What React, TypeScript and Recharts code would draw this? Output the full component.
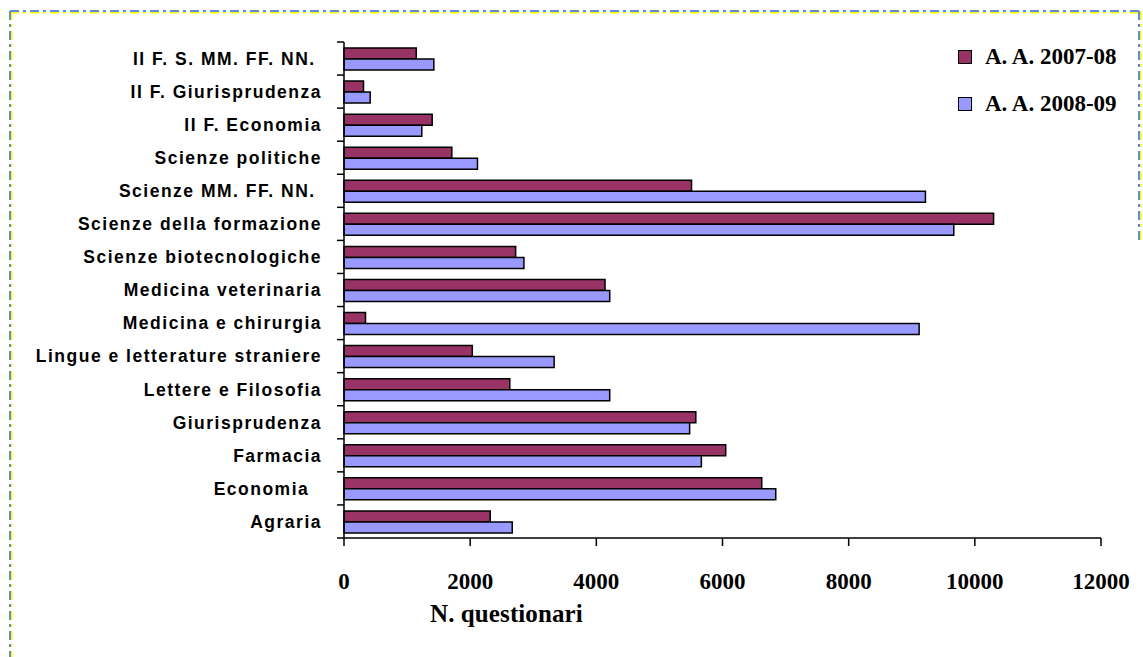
import { Bar, BarChart, Legend, XAxis, YAxis } from "recharts";

const categories = [
  "II F. S. MM. FF. NN. ",
  "II F. Giurisprudenza",
  "II F. Economia",
  "Scienze politiche",
  "Scienze MM. FF. NN. ",
  "Scienze della formazione",
  "Scienze biotecnologiche",
  "Medicina veterinaria",
  "Medicina e chirurgia",
  "Lingue e letterature straniere",
  "Lettere e Filosofia",
  "Giurisprudenza",
  "Farmacia",
  "Economia  ",
  "Agraria",
];
const aa200708 = [1145, 309, 1398, 1709, 5509, 10297, 2721, 4138, 341, 2034, 2628, 5577, 6051, 6622, 2318];
const aa200809 = [1424, 415, 1233, 2116, 9217, 9666, 2852, 4212, 9117, 3331, 4212, 5479, 5665, 6844, 2667];
const xTicks = [0, 2000, 4000, 6000, 8000, 10000, 12000];
const seriesNames = ["A. A. 2007-08", "A. A. 2008-09"];

const data = categories.map((name, i) => ({ name, a: aa200708[i], b: aa200809[i] }));

const W = 1143;
const H = 657;
const TOP = 42;
const BOTTOM = 538;
const AXIS_X = 344;
const BAND = (BOTTOM - TOP) / categories.length;

function CategoryTick(props: any) {
  const { y, payload } = props;
  const last = payload.value === categories[categories.length - 1];
  return (
    <g>
      <line x1={AXIS_X - 7} x2={AXIS_X} y1={y - BAND / 2} y2={y - BAND / 2} stroke="#000" strokeWidth={1.5} />
      {last && <line x1={AXIS_X - 7} x2={AXIS_X} y1={y + BAND / 2} y2={y + BAND / 2} stroke="#000" strokeWidth={1.5} />}
      <text
        x={AXIS_X - 22}
        y={y}
        dy="0.36em"
        textAnchor="end"
        fill="#000"
        style={{ whiteSpace: "pre", fontFamily: "'Liberation Sans', Arial, sans-serif", fontWeight: 700, fontSize: 17.5, letterSpacing: 1.5 }}
      >
        {payload.value}
      </text>
    </g>
  );
}

function SeriesLegend(props: any) {
  const payload = props.payload || [];
  return (
    <div>
      {payload.map((p: any) => (
        <div key={p.value} style={{ display: "flex", alignItems: "center", height: 47 }}>
          <span style={{ width: 12, height: 12, background: p.color, border: "1.5px solid #000", marginRight: 13 }} />
          <span
            style={{ fontFamily: "'Liberation Serif', 'Times New Roman', serif", fontWeight: 700, fontSize: 23, color: "#000" }}
          >
            {p.value}
          </span>
        </div>
      ))}
    </div>
  );
}

function Border() {
  const dash = "9 4 3 4";
  return (
    <svg width={W} height={H} style={{ position: "absolute", left: 0, top: 0, pointerEvents: "none" }}>
      <line x1={10} y1={12.5} x2={1142} y2={12.5} stroke="#ffff00" strokeWidth={2} strokeDasharray={dash} />
      <line x1={11.5} y1={11} x2={11.5} y2={657} stroke="#ffff00" strokeWidth={2} strokeDasharray={dash} />
      <line x1={1140.5} y1={11} x2={1140.5} y2={240} stroke="#ffff00" strokeWidth={2} strokeDasharray={dash} />
      <line x1={10} y1={11} x2={1142} y2={11} stroke="#5b8dd6" strokeWidth={2} strokeDasharray={dash} />
      <line x1={10} y1={11} x2={10} y2={657} stroke="#5b8dd6" strokeWidth={2} strokeDasharray={dash} />
      <line x1={1139} y1={11} x2={1139} y2={240} stroke="#5b8dd6" strokeWidth={2} strokeDasharray={dash} />
    </svg>
  );
}

export default function App() {
  return (
    <div style={{ position: "absolute", left: 0, top: 0, width: W, height: H, background: "#fff" }}>
      <BarChart
        width={W}
        height={H}
        data={data}
        layout="vertical"
        margin={{ top: TOP, right: W - 1101, bottom: H - BOTTOM - 60, left: 0 }}
        barCategoryGap={6}
        barGap={0}
      >
        <XAxis
          type="number"
          domain={[0, 12000]}
          ticks={xTicks}
          interval={0}
          height={60}
          axisLine={{ stroke: "#000", strokeWidth: 1.5 }}
          tickLine={{ stroke: "#000", strokeWidth: 1.5 }}
          tickSize={8}
          tickMargin={27}
          tick={{ fill: "#000", fontSize: 23, fontWeight: 700, fontFamily: "'Liberation Serif', 'Times New Roman', serif" }}
        />
        <YAxis
          type="category"
          dataKey="name"
          width={AXIS_X}
          interval={0}
          axisLine={{ stroke: "#000", strokeWidth: 1.5 }}
          tickLine={false}
          tick={(p: any) => <CategoryTick {...p} />}
        />
        <Legend
          layout="vertical"
          align="center"
          verticalAlign="middle"
          wrapperStyle={{ left: 958, top: 33, width: 185 }}
          content={(p: any) => <SeriesLegend {...p} />}
        />
        <Bar dataKey="a" name={seriesNames[0]} fill="#993366" stroke="#000" strokeWidth={1.5} isAnimationActive={false} />
        <Bar dataKey="b" name={seriesNames[1]} fill="#9999ff" stroke="#000" strokeWidth={1.5} isAnimationActive={false} />
      </BarChart>
      <div
        style={{
          position: "absolute",
          left: 430,
          top: 602,
          lineHeight: "24px",
          fontFamily: "'Liberation Serif', 'Times New Roman', serif",
          fontWeight: 700,
          fontSize: 25,
          letterSpacing: 0.1,
          color: "#000",
          whiteSpace: "nowrap",
        }}
      >
        N. questionari
      </div>
      <Border />
    </div>
  );
}
